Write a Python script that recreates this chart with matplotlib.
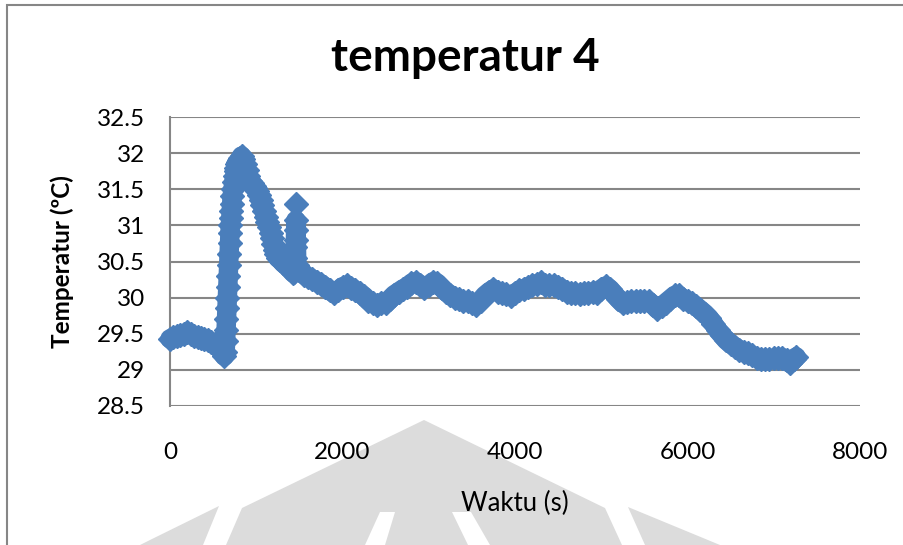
import numpy as np
import matplotlib
matplotlib.use("Agg")
import matplotlib.pyplot as plt
from matplotlib.patches import Polygon, Rectangle

plt.rcParams['font.family'] = ['Lato', 'DejaVu Sans']

# waktu (s) dan temperatur (C)
t_awal = [0, 40, 80, 120, 160, 200, 240, 280, 320, 360, 400, 440, 480, 520, 560, 600, 630]
T_awal = [29.43, 29.45, 29.47, 29.48, 29.50, 29.52, 29.49, 29.47, 29.46, 29.44, 29.43, 29.41,
          29.38, 29.36, 29.32, 29.25, 29.19]

t_naik = [640, 645, 650, 655, 660, 665, 670, 675, 680, 685, 690, 695, 700, 705, 710, 715,
          720, 730, 740, 750, 760, 770, 780, 790, 800, 815, 830]
T_naik = [29.25, 29.40, 29.55, 29.70, 29.85, 30.00, 30.15, 30.30, 30.45, 30.60, 30.75, 30.90,
          31.00, 31.10, 31.20, 31.30, 31.40, 31.50, 31.60, 31.68, 31.75, 31.80, 31.85, 31.88,
          31.90, 31.93, 31.96]

t_turun = [850, 870, 890, 910, 930, 950, 970, 990, 1010, 1030, 1050, 1070, 1090, 1110, 1130,
           1150, 1170, 1185, 1200, 1215, 1230, 1250, 1280, 1310, 1340, 1370, 1400, 1430]
T_turun = [31.92, 31.85, 31.76, 31.68, 31.62, 31.58, 31.55, 31.52, 31.48, 31.42, 31.35, 31.28,
           31.20, 31.12, 31.05, 30.98, 30.90, 30.82, 30.74, 30.66, 30.60, 30.55, 30.52, 30.48,
           30.45, 30.42, 30.38, 30.34]

t_lonjak = [1440, 1448, 1452, 1457, 1459, 1461, 1465, 1470]
T_lonjak = [30.35, 30.55, 30.70, 31.30, 31.07, 30.93, 30.80, 30.45]
t_terpisah = [1457]  # titik yang berdiri sendiri di puncak lonjakan

t_stabil = [1500, 1550, 1600, 1650, 1700, 1750, 1800, 1850, 1900, 1950, 2000, 2050, 2100,
            2150, 2200, 2250, 2300, 2350, 2400, 2450, 2500, 2550, 2600, 2650, 2700, 2750,
            2800, 2850, 2900, 2950, 3000, 3050, 3100, 3150, 3200, 3250, 3300, 3350, 3400,
            3450, 3500, 3550, 3600, 3650, 3700, 3750, 3800, 3850, 3900, 3950, 4000, 4050,
            4100, 4150, 4200, 4250, 4300, 4350, 4400, 4450, 4500, 4550, 4600, 4650, 4700,
            4750, 4800, 4850, 4900, 4950, 5000, 5050, 5100, 5150, 5200, 5250, 5300, 5350,
            5400, 5450, 5500, 5550, 5600, 5650, 5700, 5750, 5800, 5850, 5900, 5950, 6000]
T_stabil = [30.38, 30.32, 30.28, 30.26, 30.22, 30.19, 30.15, 30.10, 30.06, 30.10, 30.15, 30.17,
            30.14, 30.10, 30.06, 30.02, 29.96, 29.92, 29.90, 29.93, 29.92, 29.98, 30.04, 30.08,
            30.12, 30.15, 30.20, 30.22, 30.18, 30.14, 30.17, 30.22, 30.20, 30.14, 30.08, 30.04,
            30.00, 29.98, 29.96, 29.95, 29.93, 29.90, 29.96, 30.03, 30.08, 30.12, 30.08, 30.06,
            30.05, 30.02, 30.06, 30.10, 30.12, 30.15, 30.17, 30.19, 30.21, 30.18, 30.17, 30.18,
            30.15, 30.12, 30.08, 30.07, 30.06, 30.05, 30.07, 30.06, 30.08, 30.07, 30.12, 30.16,
            30.12, 30.05, 29.98, 29.92, 29.94, 29.95, 29.96, 29.96, 29.95, 29.95, 29.90, 29.84,
            29.88, 29.93, 29.98, 30.03, 30.03, 29.98, 29.95]

t_akhir = [6050, 6100, 6150, 6200, 6250, 6300, 6350, 6400, 6450, 6500, 6550, 6600, 6650,
           6700, 6750, 6800, 6850, 6900, 6950, 7000, 7050, 7100, 7150, 7190, 7230, 7260]
T_akhir = [29.92, 29.88, 29.83, 29.78, 29.72, 29.64, 29.55, 29.48, 29.41, 29.36, 29.32, 29.28,
           29.25, 29.23, 29.20, 29.17, 29.15, 29.15, 29.15, 29.16, 29.16, 29.17, 29.13, 29.09,
           29.15, 29.18]

waktu = np.array(t_awal + t_naik + t_turun + t_lonjak + t_stabil + t_akhir)
suhu = np.array(T_awal + T_naik + T_turun + T_lonjak + T_stabil + T_akhir)
sambung = ~np.isin(waktu, t_terpisah)

W, H = 904, 545
fig = plt.figure(figsize=(W / 100, H / 100), dpi=100)


def px(x, y):
    return (x / W, 1 - y / H)


# watermark samar di bawah grafik
abu = '#dcdcdc'
bentuk = [
    [(424, 420), (605, 508), (622, 545), (226, 545), (242, 508)],
    [(219, 506), (203, 545), (140, 545), (150, 540)],
    [(628, 507), (720, 545), (645, 545)],
]
for b in bentuk:
    fig.patches.append(Polygon([px(*p) for p in b], closed=True, transform=fig.transFigure,
                               facecolor=abu, edgecolor='none', zorder=-2))
for b in [[(380, 512), (395, 512), (385, 545), (365, 545)],
          [(452, 512), (471, 512), (490, 545), (468, 545)]]:
    fig.patches.append(Polygon([px(*p) for p in b], closed=True, transform=fig.transFigure,
                               facecolor='white', edgecolor='none', zorder=-1))

# bingkai grafik
fig.patches.append(Rectangle(px(7, 600), 1.2, (600 - 5) / H, transform=fig.transFigure,
                             fill=False, edgecolor='#868686', lw=1.5, zorder=-1))

biru = '#4a7ebb'
ax = fig.add_axes([170 / W, 1 - 406 / H, (860 - 170) / W, (406 - 117) / H])
ax.plot(waktu[sambung], suhu[sambung], color=biru, lw=14, solid_joinstyle='round',
        solid_capstyle='round', clip_on=False, zorder=3)
ax.plot(waktu, suhu, ls='none', marker='D', markersize=12, color=biru,
        markeredgecolor=biru, clip_on=False, zorder=3)

ax.set_xlim(0, 8000)
ax.set_ylim(28.5, 32.5)
ax.set_xticks([0, 2000, 4000, 6000, 8000])
ax.set_yticks(np.arange(28.5, 32.51, 0.5))
ax.set_yticklabels(['28.5', '29', '29.5', '30', '30.5', '31', '31.5', '32', '32.5'])
ax.grid(axis='y', color='#868686', lw=1.5)
ax.set_axisbelow(True)
for s in ['top', 'right', 'bottom']:
    ax.spines[s].set_visible(False)
ax.spines['left'].set_color('#868686')
ax.spines['left'].set_linewidth(1.5)
ax.tick_params(length=0, labelsize=17.5)
ax.tick_params(axis='y', pad=18)
ax.tick_params(axis='x', pad=26)

ax.set_xlabel('Waktu (s)', fontsize=18.5)
ax.xaxis.set_label_coords((515 - 170) / (860 - 170), -(503 - 406) / (406 - 117), transform=ax.transAxes)
ax.xaxis.label.set_va('center')
ax.set_ylabel('Temperatur (ºC)', fontsize=17.5, fontweight='bold')
ax.yaxis.set_label_coords(-(170 - 62) / (860 - 170), 0.5)
ax.yaxis.label.set_va('center')

fig.text(465 / W, 1 - 58 / H, 'temperatur 4', fontsize=33, fontweight='bold',
         ha='center', va='center')

fig.savefig('out.png', dpi=100)
